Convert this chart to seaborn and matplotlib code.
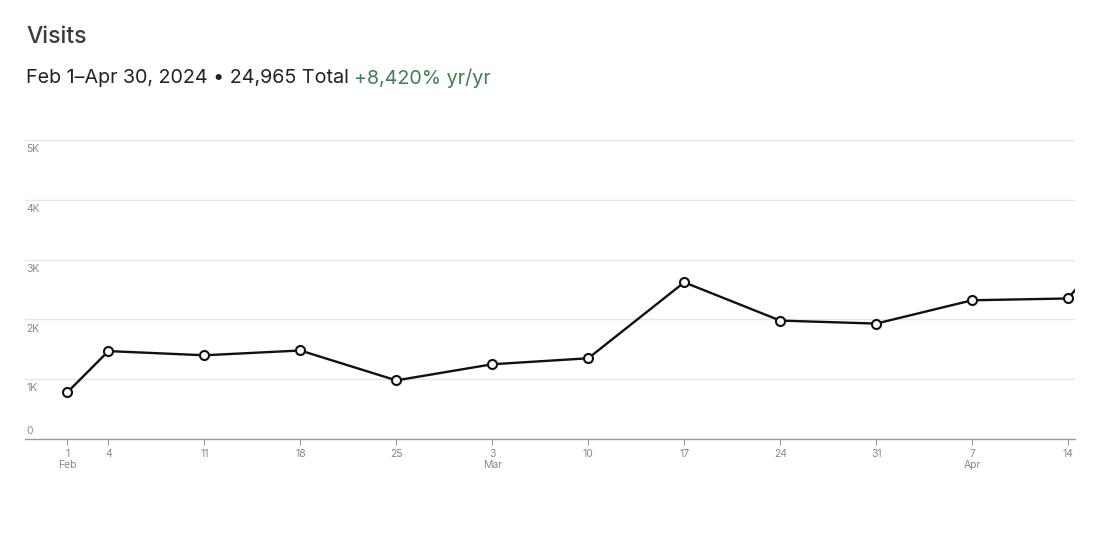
import pandas as pd
import numpy as np
import matplotlib
matplotlib.use("Agg")
import matplotlib.pyplot as plt
import seaborn as sns

# data (weekly visits)
dates = ["2024-02-01", "2024-02-04", "2024-02-11", "2024-02-18", "2024-02-25",
         "2024-03-03", "2024-03-10", "2024-03-17", "2024-03-24", "2024-03-31",
         "2024-04-07", "2024-04-14", "2024-04-21"]
visits = [780, 1470, 1400, 1480, 980, 1250, 1350, 2620, 1980, 1930, 2320, 2350, 4300]

tick_dates = ["2024-02-01", "2024-02-04", "2024-02-11", "2024-02-18", "2024-02-25",
              "2024-03-03", "2024-03-10", "2024-03-17", "2024-03-24", "2024-03-31",
              "2024-04-07", "2024-04-14"]
tick_labels = ["1\nFeb", "4", "11", "18", "25", "3\nMar", "10", "17", "24", "31", "7\nApr", "14"]
y_ticks = [0, 1000, 2000, 3000, 4000, 5000]
y_labels = ["0", "1K", "2K", "3K", "4K", "5K"]

df = pd.DataFrame({"date": pd.to_datetime(dates), "visits": visits})

sns.set_style("white")
plt.rcParams["font.family"] = ["Inter", "DejaVu Sans"]

fig = plt.figure(figsize=(11.2, 5.38), dpi=100)
ax = fig.add_axes([25 / 1120, 1 - 439 / 538, 1050 / 1120, 299 / 538])

sns.lineplot(data=df, x="date", y="visits", ax=ax, color="#111111", linewidth=1.7,
             marker="o", markersize=6.5, markerfacecolor="white",
             markeredgecolor="#111111", markeredgewidth=1.5)

ax.set_xlim(pd.Timestamp("2024-01-28 22:00"), pd.Timestamp("2024-04-14 12:00"))
ax.set_ylim(0, 5000)

# horizontal gridlines
for v in y_ticks[1:]:
    ax.axhline(v, color="#e6e6e6", linewidth=1, zorder=0)

# y labels sit inside the plot, just under each gridline (0 sits above the axis)
for v, lab in zip(y_ticks, y_labels):
    if v == 0:
        ax.annotate(lab, (0, v), xycoords=("axes fraction", "data"), xytext=(1, 2.5),
                    textcoords="offset points", fontsize=7.5, color="#8a8a8a", va="bottom")
    else:
        ax.annotate(lab, (0, v), xycoords=("axes fraction", "data"), xytext=(1, -3),
                    textcoords="offset points", fontsize=7.5, color="#8a8a8a", va="top")
ax.set_yticks([])

ax.set_xticks(pd.to_datetime(tick_dates))
ax.set_xticklabels(tick_labels, fontsize=7.5, color="#8a8a8a", linespacing=1.2)
ax.tick_params(axis="x", length=4, width=0.8, color="#9a9a9a", pad=3, direction="out", bottom=True)

for s in ["top", "right", "left"]:
    ax.spines[s].set_visible(False)
ax.spines["bottom"].set_color("#9a9a9a")
ax.spines["bottom"].set_linewidth(1)
ax.set_xlabel("")
ax.set_ylabel("")

# header text
fig.text(26 / 1120, 1 - 37 / 538, "Visits", fontsize=16.5, fontweight="medium",
         color="#3a3a3a", va="center", ha="left")
t = fig.text(26 / 1120, 1 - 78 / 538, "Feb 1\u2013Apr 30, 2024 \u2022 24,965 Total ",
             fontsize=14.2, color="#222222", va="center", ha="left")
fig.canvas.draw()
bb = t.get_window_extent()
fig.text(bb.x1 / fig.bbox.width, 1 - 78 / 538, "+8,420% yr/yr", fontsize=14.2,
         color="#3f7f52", va="center", ha="left")

fig.savefig("out.png", dpi=100)
